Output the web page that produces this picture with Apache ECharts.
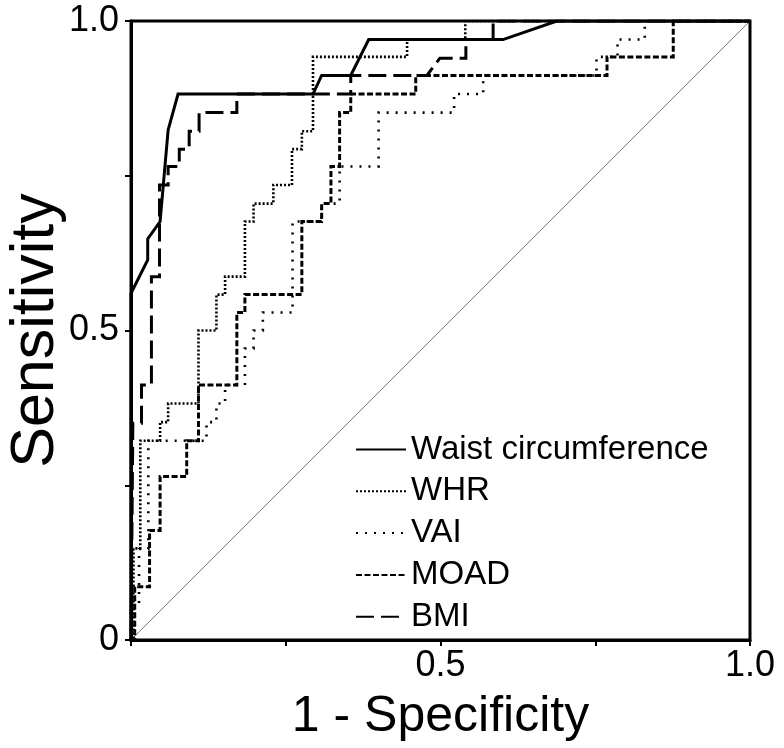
<!DOCTYPE html>
<html><head><meta charset="utf-8">
<script src="https://cdn.jsdelivr.net/npm/echarts@6/dist/echarts.min.js"></script>
<style>html,body{margin:0;padding:0;background:#fff}#c{width:784px;height:748px}</style>
</head><body><div id="c"></div>
<script>
const seriesNames = ['Waist circumference', 'WHR', 'VAI', 'MOAD', 'BMI'];
const xTickLabels = ['', '0.5', '1.0'];
const yTickLabels = ['0', '0.5', '1.0'];

const waist = [[0,0],[0,0.56],[0.027,0.614],[0.027,0.648],[0.047,0.676],[0.060,0.824],[0.076,0.882],[0.294,0.882],[0.308,0.912],[0.355,0.912],[0.384,0.970],[0.601,0.970],[0.688,1],[1,1]];
const whr = [[0,0],[0.004,0],[0.004,0.148],[0.015,0.148],[0.015,0.322],[0.047,0.322],[0.047,0.352],[0.060,0.352],[0.060,0.382],[0.109,0.382],[0.109,0.500],[0.138,0.500],[0.138,0.558],[0.152,0.558],[0.152,0.587],[0.184,0.587],[0.184,0.676],[0.198,0.676],[0.198,0.705],[0.230,0.705],[0.230,0.735],[0.260,0.735],[0.260,0.793],[0.276,0.793],[0.276,0.822],[0.294,0.822],[0.294,0.942],[0.446,0.942],[0.446,0.970],[0.540,0.970],[0.540,1],[1,1]];
const vai = [[0,0],[0,0.057],[0.013,0.057],[0.013,0.147],[0.028,0.147],[0.028,0.322],[0.122,0.322],[0.122,0.352],[0.138,0.352],[0.138,0.382],[0.152,0.382],[0.152,0.412],[0.184,0.412],[0.184,0.471],[0.198,0.471],[0.198,0.500],[0.213,0.500],[0.213,0.529],[0.261,0.529],[0.261,0.676],[0.308,0.676],[0.308,0.705],[0.337,0.705],[0.337,0.765],[0.400,0.765],[0.400,0.852],[0.522,0.852],[0.522,0.882],[0.569,0.882],[0.569,0.912],[0.752,0.912],[0.752,0.942],[0.786,0.942],[0.786,0.970],[0.830,0.970],[0.830,1],[1,1]];
const moad = [[0,0],[0.006,0],[0.006,0.086],[0.030,0.086],[0.030,0.177],[0.047,0.177],[0.047,0.264],[0.090,0.264],[0.090,0.322],[0.109,0.322],[0.109,0.412],[0.171,0.412],[0.171,0.529],[0.184,0.529],[0.184,0.558],[0.276,0.558],[0.276,0.676],[0.308,0.676],[0.308,0.705],[0.323,0.705],[0.323,0.765],[0.337,0.765],[0.337,0.852],[0.355,0.852],[0.355,0.882],[0.460,0.882],[0.460,0.912],[0.769,0.912],[0.769,0.942],[0.876,0.942],[0.876,1],[1,1]];
const bmi = [[0,0],[0.003,0],[0.003,0.350],[0.017,0.350],[0.017,0.412],[0.033,0.412],[0.033,0.587],[0.046,0.587],[0.046,0.735],[0.060,0.735],[0.060,0.765],[0.078,0.765],[0.078,0.793],[0.094,0.793],[0.094,0.822],[0.110,0.822],[0.110,0.852],[0.171,0.852],[0.171,0.882],[0.355,0.882],[0.355,0.912],[0.478,0.912],[0.499,0.940],[0.541,0.940],[0.541,0.970],[0.585,0.970],[0.585,1],[1,1]];
const diagonal = [[0,0],[1,1]];

const FONT = '"Liberation Sans", Arial, sans-serif';
const chart = echarts.init(document.getElementById('c'), null, {renderer: 'canvas'});
function mk(name, data, style, z) {
  return {name, type: 'line', data, symbol: 'none', animation: false, z,
    itemStyle: {color: '#000', opacity: 0},
    lineStyle: Object.assign({color: '#000', cap: 'butt', join: 'miter'}, style), emphasis: {disabled: true}};
}
chart.setOption({
  backgroundColor: '#fff',
  animation: false,
  grid: {left: 131, top: 21, width: 619, height: 619, show: true, borderColor: '#000', borderWidth: 3,
    backgroundColor: 'transparent', containLabel: false, outerBoundsMode: 'none'},
  xAxis: {type: 'value', min: 0, max: 1, interval: 0.25,
    axisLine: {show: true, lineStyle: {color: '#000', width: 3}},
    axisTick: {show: true, inside: false, length: 6, lineStyle: {color: '#000', width: 2}},
    splitLine: {show: false},
    axisLabel: {color: '#000', fontFamily: FONT, fontSize: 36, margin: 8,
      formatter: v => v === 0.5 ? xTickLabels[1] : (v === 1 ? xTickLabels[2] : (v === 0 ? xTickLabels[0] : ''))},
    name: '1 - Specificity', nameLocation: 'middle', nameGap: 52, nameMoveOverlap: false,
    nameTextStyle: {color: '#000', fontFamily: FONT, fontSize: 50}},
  yAxis: {type: 'value', min: 0, max: 1, interval: 0.25,
    axisLine: {show: true, lineStyle: {color: '#000', width: 3}},
    axisTick: {show: true, inside: false, length: 6, lineStyle: {color: '#000', width: 2}},
    splitLine: {show: false},
    axisLabel: {color: '#000', fontFamily: FONT, fontSize: 36, margin: 12,
      formatter: v => v === 0 ? yTickLabels[0] : (v === 0.5 ? yTickLabels[1] : (v === 1 ? yTickLabels[2] : ''))},
    name: 'Sensitivity', nameLocation: 'middle', nameGap: 64, nameMoveOverlap: false,
    nameTextStyle: {color: '#000', fontFamily: FONT, fontSize: 61}},
  legend: {show: true, orient: 'vertical', left: 355, top: 433, itemWidth: 50, itemHeight: 14, itemGap: 8.8,
    data: seriesNames, selectedMode: false, padding: 0,
    itemStyle: {opacity: 0},
    textStyle: {color: '#000', fontFamily: FONT, fontSize: 33, lineHeight: 33}},
  series: [
    {type: 'line', data: diagonal, symbol: 'none', silent: true, z: 1, lineStyle: {color: '#555', width: 0.8}},
    mk('VAI', vai, {width: 2.6, type: [2, 7]}, 2),
    mk('WHR', whr, {width: 2.6, type: [2, 2]}, 3),
    mk('MOAD', moad, {width: 3, type: [6, 2.5]}, 4),
    mk('BMI', bmi, {width: 3, type: [18, 7]}, 5),
    mk('Waist circumference', waist, {width: 3, type: 'solid'}, 6)
  ]
});
</script></body></html>
